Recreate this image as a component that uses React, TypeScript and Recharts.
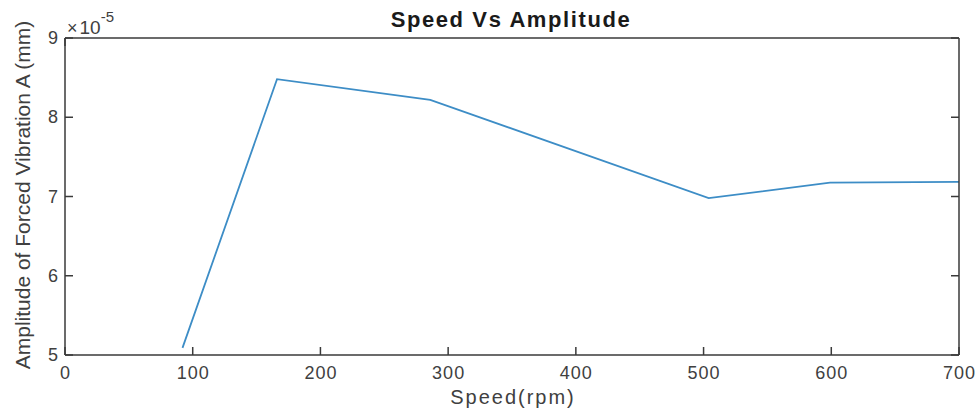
import React from 'react';
import { LineChart, Line, XAxis, YAxis } from 'recharts';

// speed in rpm, amplitude in units of 1e-5 mm
const speedRpm = [92, 166, 286, 504, 599, 700];
const amplitude = [5.09, 8.48, 8.22, 6.98, 7.175, 7.185];
const xTicks = [0, 100, 200, 300, 400, 500, 600, 700];
const yTicks = [5, 6, 7, 8, 9];

const chartData = speedRpm.map((s, i) => ({ speed: s, amp: amplitude[i] }));

const AXIS = '#3a3a3a';
const TEXT = '#404040';
const FONT = '"Liberation Sans", Arial, sans-serif';

const BottomTick = (props: any) => {
  const { x, y, payload } = props;
  return (
    <text x={x + 0.5} y={y + 32} textAnchor="middle" fill={TEXT} fontSize={18} letterSpacing={1} fontFamily={FONT}>
      {payload.value}
    </text>
  );
};

const LeftTick = (props: any) => {
  const { x, y, payload } = props;
  return (
    <text x={x - 15} y={y + 6} textAnchor="end" fill={TEXT} fontSize={18} fontFamily={FONT}>
      {payload.value}
    </text>
  );
};

// tick lines only, no labels (top and right side of the box)
const NoLabel = () => <g />;

export default function App() {
  return (
    <div style={{ position: 'absolute', left: 0, top: 0, width: 980, height: 413, background: '#fff' }}>
      <LineChart
        width={980}
        height={413}
        data={chartData}
        margin={{ top: 37, right: 20, bottom: 28, left: 15 }}
      >
        <XAxis
          xAxisId="b"
          dataKey="speed"
          type="number"
          domain={[0, 700]}
          ticks={xTicks}
          height={30}
          tickSize={-8}
          tickMargin={0}
          tick={<BottomTick />}
          stroke={AXIS}
          strokeWidth={1.5}
          allowDataOverflow
        />
        <XAxis
          xAxisId="t"
          orientation="top"
          type="number"
          domain={[0, 700]}
          ticks={xTicks}
          height={1}
          tickSize={-8}
          tick={<NoLabel />}
          stroke={AXIS}
          strokeWidth={1.5}
          allowDataOverflow
        />
        <YAxis
          yAxisId="l"
          type="number"
          domain={[5, 9]}
          ticks={yTicks}
          width={50}
          tickSize={-8}
          tickMargin={0}
          tick={<LeftTick />}
          stroke={AXIS}
          strokeWidth={1.5}
          allowDataOverflow
        />
        <YAxis
          yAxisId="r"
          orientation="right"
          type="number"
          domain={[5, 9]}
          ticks={yTicks}
          width={1}
          tickSize={-8}
          tick={<NoLabel />}
          stroke={AXIS}
          strokeWidth={1.5}
          allowDataOverflow
        />
        <Line
          xAxisId="b"
          yAxisId="l"
          dataKey="amp"
          type="linear"
          stroke="#3d8dc6"
          strokeWidth={1.8}
          dot={false}
          isAnimationActive={false}
        />
        <text x={511} y={27} textAnchor="middle" fontSize={22} fontWeight="bold" letterSpacing={1.6} fill="#1a1a1a" fontFamily={FONT}>
          Speed Vs Amplitude
        </text>
        <text x={513} y={404} textAnchor="middle" fontSize={20} letterSpacing={2} fill={TEXT} fontFamily={FONT}>
          Speed(rpm)
        </text>
        <text
          x={30}
          y={195}
          transform="rotate(-90 30 195)"
          textAnchor="middle"
          fontSize={21}
          fill={TEXT}
          fontFamily={FONT}
        >
          Amplitude of Forced Vibration A (mm)
        </text>
        <text x={67} y={34} fill={TEXT} fontFamily={FONT}>
          <tspan fontSize={18}>×</tspan>
          <tspan fontSize={19} dx={2}>10</tspan>
          <tspan fontSize={15} dy={-12}>-5</tspan>
        </text>
      </LineChart>
    </div>
  );
}
